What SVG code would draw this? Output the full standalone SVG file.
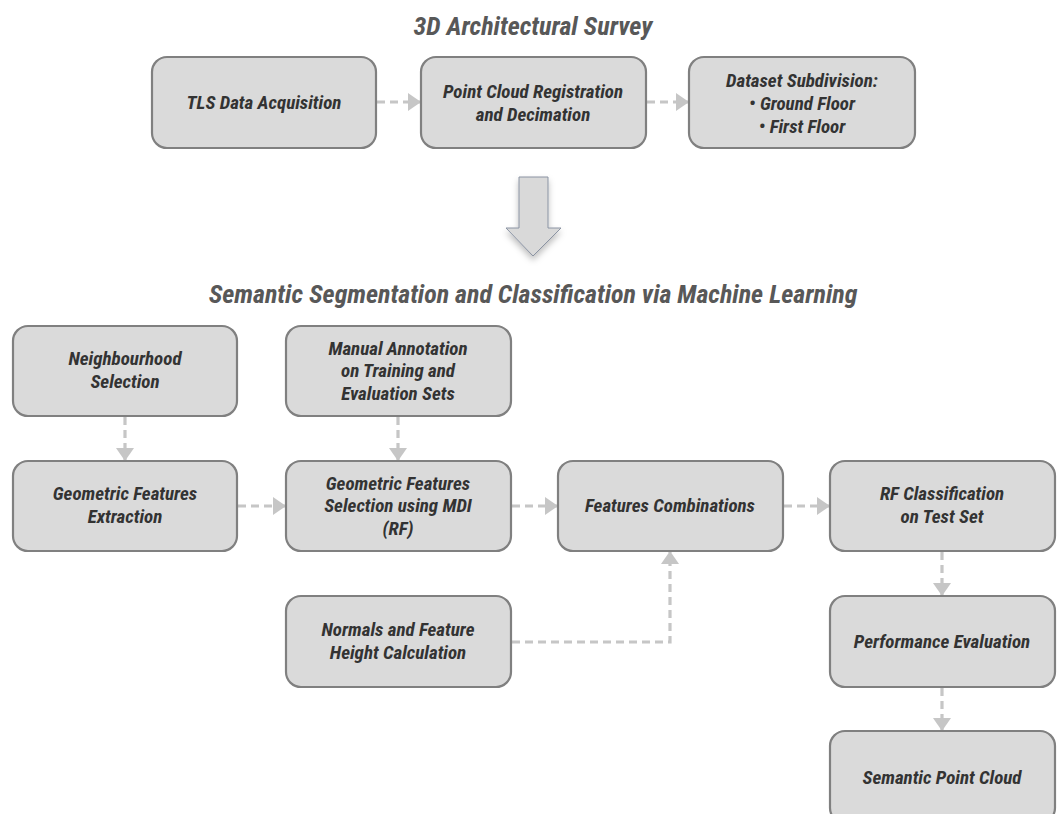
<svg xmlns="http://www.w3.org/2000/svg" width="1060" height="814" viewBox="0 0 1060 814">
<style>
.box{fill:#dadada;stroke:#808080;stroke-width:2.2}
.t{font-family:"Liberation Sans Narrow","Roboto Condensed","DejaVu Sans Condensed","Liberation Sans",sans-serif;font-stretch:condensed;font-weight:bold;font-style:italic;font-size:19px;fill:#333;text-anchor:middle}
.title{font-family:"Liberation Sans Narrow","Roboto Condensed","DejaVu Sans Condensed","Liberation Sans",sans-serif;font-stretch:condensed;font-weight:bold;font-style:italic;font-size:26px;fill:#585858;text-anchor:middle}
.c{fill:none;stroke:#c6c6c6;stroke-width:3.2;stroke-dasharray:8 5;marker-end:url(#ah)}
</style>
<defs>
<marker id="ah" markerUnits="userSpaceOnUse" markerWidth="14" markerHeight="20" refX="13" refY="9" orient="auto">
<path d="M0,0 L13,9 L0,18 Z" fill="#c6c6c6"/>
</marker>
<filter id="sh" x="-30%" y="-30%" width="160%" height="160%">
<feDropShadow dx="0" dy="4" stdDeviation="3" flood-color="#000" flood-opacity="0.25"/>
</filter>
</defs>
<rect width="1060" height="814" fill="#fff"/>

<text class="title" x="533" y="35">3D Architectural Survey</text>
<text class="title" x="533" y="303">Semantic Segmentation and Classification via Machine Learning</text>

<g id="bigarrow">
<path d="M519,177 L548,177 L548,228 L561,228 L533,256 L506,228 L519,228 Z" fill="#d9d9d9" stroke="#8a93a3" stroke-width="1" filter="url(#sh)"/>
</g>

<g id="connectors">
<line class="c" x1="377" y1="102" x2="421" y2="102"/>
<line class="c" x1="647" y1="102" x2="689" y2="102"/>
<line class="c" x1="238" y1="506" x2="286" y2="506"/>
<line class="c" x1="512" y1="506" x2="558" y2="506"/>
<line class="c" x1="784" y1="506" x2="830" y2="506"/>
<line class="c" x1="125" y1="417" x2="125" y2="461"/>
<line class="c" x1="398" y1="417" x2="398" y2="461"/>
<line class="c" x1="942" y1="552" x2="942" y2="596"/>
<line class="c" x1="942" y1="688" x2="942" y2="731"/>
<path class="c" d="M512,642 L670,642 L670,551"/>
</g>

<g id="n1"><rect class="box" x="152" y="57" width="224" height="91" rx="15"/>
<text class="t" x="264" y="109">TLS Data Acquisition</text></g>
<g id="n2"><rect class="box" x="421" y="57" width="225" height="91" rx="15"/>
<text class="t" x="533" y="98">Point Cloud Registration</text>
<text class="t" x="533" y="121">and Decimation</text></g>
<g id="n3"><rect class="box" x="689" y="57" width="226" height="91" rx="15"/>
<text class="t" x="802" y="87">Dataset Subdivision:</text>
<text class="t" x="802" y="110">•  Ground Floor</text>
<text class="t" x="802" y="133">•  First Floor</text></g>

<g id="n4"><rect class="box" x="13" y="326" width="224" height="90" rx="15"/>
<text class="t" x="125" y="365">Neighbourhood</text>
<text class="t" x="125" y="388">Selection</text></g>
<g id="n5"><rect class="box" x="286" y="326" width="225" height="90" rx="15"/>
<text class="t" x="398" y="355">Manual Annotation</text>
<text class="t" x="398" y="377">on Training and</text>
<text class="t" x="398" y="400">Evaluation Sets</text></g>

<g id="n6"><rect class="box" x="13" y="461" width="224" height="90" rx="15"/>
<text class="t" x="125" y="500">Geometric Features</text>
<text class="t" x="125" y="523">Extraction</text></g>
<g id="n7"><rect class="box" x="286" y="461" width="225" height="90" rx="15"/>
<text class="t" x="398" y="490">Geometric Features</text>
<text class="t" x="398" y="512">Selection using MDI</text>
<text class="t" x="398" y="535">(RF)</text></g>
<g id="n8"><rect class="box" x="558" y="461" width="225" height="90" rx="15"/>
<text class="t" x="670" y="512">Features Combinations</text></g>
<g id="n9"><rect class="box" x="830" y="461" width="225" height="90" rx="15"/>
<text class="t" x="942" y="500">RF Classification</text>
<text class="t" x="942" y="523">on Test Set</text></g>

<g id="n10"><rect class="box" x="286" y="596" width="225" height="91" rx="15"/>
<text class="t" x="398" y="636">Normals and Feature</text>
<text class="t" x="398" y="659">Height Calculation</text></g>
<g id="n11"><rect class="box" x="830" y="596" width="225" height="91" rx="15"/>
<text class="t" x="942" y="648">Performance Evaluation</text></g>
<g id="n12"><rect class="box" x="830" y="731" width="225" height="92" rx="15"/>
<text class="t" x="942" y="784">Semantic Point Cloud</text></g>
</svg>
